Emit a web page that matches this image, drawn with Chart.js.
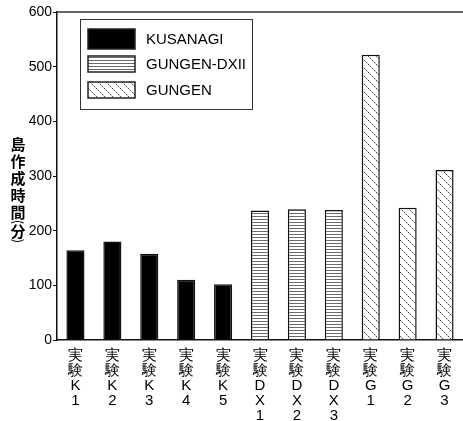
<!DOCTYPE html>
<html>
<head>
<meta charset="utf-8">
<script src="https://cdn.jsdelivr.net/npm/chart.js@4/dist/chart.umd.min.js"></script>
<style>
  html, body { margin: 0; padding: 0; background: #fff; }
  #wrap { width: 463px; height: 421px; }
</style>
</head>
<body>
<div id="wrap"><canvas id="myChart" width="463" height="421"></canvas></div>
<script>
// categories: each label is stacked vertically, one glyph per line
const categories = [
  ['実', '験', 'K', '1'], ['実', '験', 'K', '2'], ['実', '験', 'K', '3'],
  ['実', '験', 'K', '4'], ['実', '験', 'K', '5'],
  ['実', '験', 'D', 'X', '1'], ['実', '験', 'D', 'X', '2'], ['実', '験', 'D', 'X', '3'],
  ['実', '験', 'G', '1'], ['実', '験', 'G', '2'], ['実', '験', 'G', '3']
];
const seriesNames = ['KUSANAGI', 'GUNGEN-DXII', 'GUNGEN'];
const kusanagi = [164, 180, 158, 110, 102, null, null, null, null, null, null];
const gungenDx = [null, null, null, null, null, 237, 239, 238, null, null, null];
const gungen   = [null, null, null, null, null, null, null, null, 522, 242, 311];
const yTicks = [0, 100, 200, 300, 400, 500, 600];
const yTitle = ['島', '作', '成', '時', '間', '(', '分', ')'];

const FONT = '"Liberation Sans", Arial, Helvetica, sans-serif';

// hatch patterns
function stripePattern() {
  const c = document.createElement('canvas');
  c.width = 4; c.height = 3;
  const g = c.getContext('2d');
  g.fillStyle = '#fff'; g.fillRect(0, 0, 4, 3);
  g.fillStyle = '#6a6a6a'; g.fillRect(0, 0, 4, 1);
  return g.createPattern(c, 'repeat');
}
function dotDiagPattern() {
  const c = document.createElement('canvas');
  c.width = 8; c.height = 8;
  const g = c.getContext('2d');
  g.fillStyle = '#fff'; g.fillRect(0, 0, 8, 8);
  for (let i = 0; i < 8; i++) {
    g.fillStyle = (i % 2 === 0) ? '#444' : '#b5b5b5';
    g.fillRect(i, i, 1, 1);
  }
  return g.createPattern(c, 'repeat');
}
const fills = ['#000', stripePattern(), dotDiagPattern()];

// top frame line
const topLine = {
  id: 'topLine',
  afterDraw(chart) {
    const { ctx, chartArea } = chart;
    ctx.save();
    ctx.strokeStyle = '#333';
    ctx.lineWidth = 1.5;
    ctx.beginPath();
    ctx.moveTo(chartArea.left, chartArea.top);
    ctx.lineTo(chart.width, chartArea.top);
    ctx.stroke();
    ctx.restore();
  }
};

// vertical stacked y title, brackets turned sideways
const yTitlePlugin = {
  id: 'yTitleStack',
  afterDraw(chart) {
    const ctx = chart.ctx;
    ctx.save();
    ctx.fillStyle = '#000';
    ctx.textAlign = 'center';
    ctx.textBaseline = 'middle';
    const ys = [144, 161, 178, 195, 212, 222, 231, 241];
    yTitle.forEach((ch, i) => {
      if (ch === '(' || ch === ')') {
        ctx.save();
        ctx.translate(18, ys[i]);
        ctx.rotate(Math.PI / 2);
        ctx.font = '13px "Noto Sans CJK JP", sans-serif';
        ctx.fillText(ch, 0, 0);
        ctx.restore();
      } else {
        ctx.font = 'bold 15px "Noto Sans CJK JP", sans-serif';
        ctx.fillText(ch, 18, ys[i]);
      }
    });
    ctx.restore();
  }
};

// boxed legend inside the plot
const boxLegend = {
  id: 'boxLegend',
  afterDraw(chart) {
    const ctx = chart.ctx;
    ctx.save();
    ctx.strokeStyle = '#333';
    ctx.lineWidth = 1;
    ctx.strokeRect(80.5, 19.5, 172, 90);
    const rows = [[29, 20], [56, 16], [82, 16]];
    chart.data.datasets.forEach((ds, i) => {
      const [y, h] = rows[i];
      ctx.fillStyle = ds.backgroundColor;
      ctx.fillRect(88, y, 47, h);
      ctx.lineWidth = 1.5;
      ctx.strokeStyle = '#222';
      ctx.strokeRect(88, y, 47, h);
      ctx.fillStyle = '#000';
      ctx.font = '15px ' + FONT;
      ctx.textAlign = 'left';
      ctx.textBaseline = 'middle';
      ctx.fillText(ds.label, 146, y + h / 2 + 1);
    });
    ctx.restore();
  }
};

new Chart(document.getElementById('myChart').getContext('2d'), {
  type: 'bar',
  data: {
    labels: categories,
    datasets: [
      { label: seriesNames[0], data: kusanagi, backgroundColor: fills[0] },
      { label: seriesNames[1], data: gungenDx, backgroundColor: fills[1] },
      { label: seriesNames[2], data: gungen, backgroundColor: fills[2] }
    ]
  },
  options: {
    responsive: false,
    animation: false,
    devicePixelRatio: 1,
    layout: { padding: { top: 12, right: 0, left: 0, bottom: 0 } },
    datasets: {
      bar: {
        grouped: false,
        borderColor: '#111',
        borderWidth: 1.5,
        barPercentage: 0.49,
        categoryPercentage: 1
      }
    },
    plugins: {
      legend: { display: false },
      tooltip: { enabled: false }
    },
    scales: {
      x: {
        grid: { display: false },
        border: { display: true, color: '#111', width: 1.5 },
        ticks: {
          color: '#000',
          font: { family: FONT, size: 15, lineHeight: '15px' },
          maxRotation: 0,
          autoSkip: false,
          padding: 0
        },
        afterFit(scale) { scale.height = 81; }
      },
      y: {
        min: 0,
        max: 600,
        afterBuildTicks(scale) { scale.ticks = yTicks.map(v => ({ value: v })); },
        grid: { drawOnChartArea: false, tickLength: 4, color: '#111', tickWidth: 1 },
        border: { display: true, color: '#111', width: 1.5 },
        ticks: {
          color: '#000',
          font: { family: FONT, size: 14 },
          padding: 1
        },
        afterFit(scale) { scale.width = 57; }
      }
    }
  },
  plugins: [topLine, yTitlePlugin, boxLegend]
});
</script>
</body>
</html>
